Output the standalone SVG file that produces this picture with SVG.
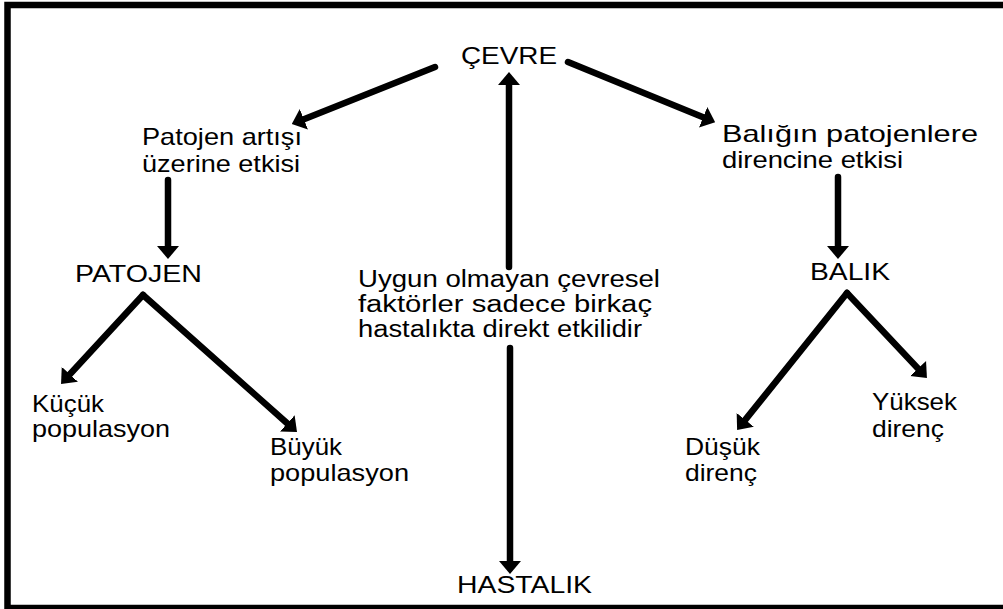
<svg xmlns="http://www.w3.org/2000/svg" width="1003" height="609" viewBox="0 0 1003 609">
<style>
  .t { font-family: "Liberation Sans", Arial, sans-serif; font-size: 24px; fill: #000; }
  .m { font-size: 23px; }
  .c { stroke: #000; stroke-width: 6.5; fill: none; stroke-linecap: round; }
</style>
<defs>
  <marker id="ah" viewBox="0 0 13 22" refX="2" refY="11" markerWidth="13" markerHeight="22" markerUnits="userSpaceOnUse" orient="auto">
    <path d="M0,0 L13,11 L0,22 z" fill="#000"/>
  </marker>
</defs>
<rect x="0" y="0" width="1003" height="609" fill="#fff"/>
<rect x="7.5" y="5" width="1010" height="603" fill="none" stroke="#000" stroke-width="6.5"/>

<g id="connectors">
  <line class="c" x1="435" y1="67" x2="302" y2="120" marker-end="url(#ah)"/>
  <line class="c" x1="568" y1="62" x2="705" y2="118" marker-end="url(#ah)"/>
  <line class="c" x1="168" y1="180" x2="168" y2="248" marker-end="url(#ah)"/>
  <line class="c" x1="838" y1="177" x2="838" y2="248" marker-end="url(#ah)"/>
  <line class="c" x1="509" y1="267" x2="509" y2="83" marker-end="url(#ah)"/>
  <line class="c" x1="510" y1="348" x2="510" y2="563" marker-end="url(#ah)"/>
  <line class="c" x1="143" y1="295" x2="68.5" y2="375.8" marker-end="url(#ah)"/>
  <line class="c" x1="143" y1="295" x2="288.8" y2="424.7" marker-end="url(#ah)"/>
  <line class="c" x1="847" y1="293" x2="744" y2="421.4" marker-end="url(#ah)"/>
  <line class="c" x1="847" y1="293" x2="919.4" y2="370" marker-end="url(#ah)"/>
</g>

<g id="cevre"><text class="t" x="461" y="64" font-size="23" textLength="96" lengthAdjust="spacingAndGlyphs">ÇEVRE</text></g>
<g id="patojen-artisi">
  <text class="t" x="142" y="145" textLength="160" lengthAdjust="spacingAndGlyphs">Patojen artışı</text>
  <text class="t" x="142" y="172" textLength="158" lengthAdjust="spacingAndGlyphs">üzerine etkisi</text>
</g>
<g id="baligin">
  <text class="t" x="722" y="142" textLength="256" lengthAdjust="spacingAndGlyphs">Balığın patojenlere</text>
  <text class="t" x="722" y="168" textLength="181" lengthAdjust="spacingAndGlyphs">direncine etkisi</text>
</g>
<g id="patojen"><text class="t" x="75" y="282" textLength="127" lengthAdjust="spacingAndGlyphs">PATOJEN</text></g>
<g id="balik"><text class="t" x="810" y="280" textLength="80" lengthAdjust="spacingAndGlyphs">BALIK</text></g>
<g id="uygun">
  <text class="t m" x="358" y="287" textLength="302" lengthAdjust="spacingAndGlyphs">Uygun olmayan çevresel</text>
  <text class="t m" x="358" y="312" textLength="294" lengthAdjust="spacingAndGlyphs">faktörler sadece birkaç</text>
  <text class="t m" x="358" y="337" textLength="284" lengthAdjust="spacingAndGlyphs">hastalıkta direkt etkilidir</text>
</g>
<g id="kucuk">
  <text class="t" x="32" y="412" textLength="72" lengthAdjust="spacingAndGlyphs">Küçük</text>
  <text class="t" x="32" y="437" textLength="138" lengthAdjust="spacingAndGlyphs">populasyon</text>
</g>
<g id="buyuk">
  <text class="t" x="270" y="455" textLength="72" lengthAdjust="spacingAndGlyphs">Büyük</text>
  <text class="t" x="270" y="481" textLength="139" lengthAdjust="spacingAndGlyphs">populasyon</text>
</g>
<g id="dusuk">
  <text class="t" x="685" y="455" textLength="75" lengthAdjust="spacingAndGlyphs">Düşük</text>
  <text class="t" x="685" y="481" textLength="72" lengthAdjust="spacingAndGlyphs">direnç</text>
</g>
<g id="yuksek">
  <text class="t" x="872" y="410" textLength="85" lengthAdjust="spacingAndGlyphs">Yüksek</text>
  <text class="t" x="872" y="437" textLength="72" lengthAdjust="spacingAndGlyphs">direnç</text>
</g>
<g id="hastalik"><text class="t" x="457" y="593" textLength="135" lengthAdjust="spacingAndGlyphs">HASTALIK</text></g>
</svg>
